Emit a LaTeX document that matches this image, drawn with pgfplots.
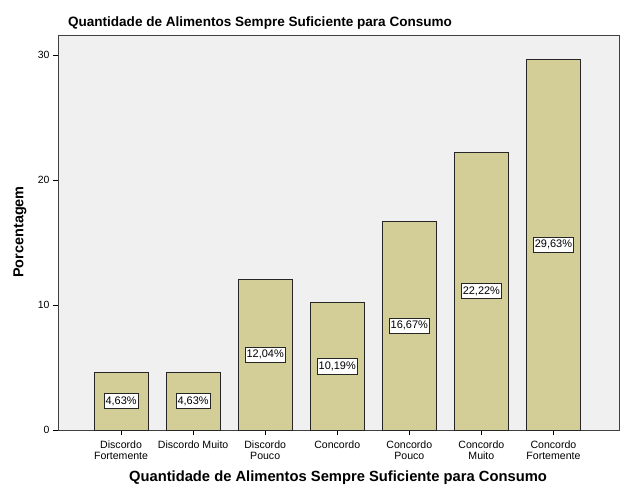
\documentclass[border=0pt]{standalone}
\usepackage{pgfplots}
\pgfplotsset{compat=1.18}
\usepackage{fontspec}
\setmainfont{Liberation Sans}
\definecolor{barfill}{HTML}{D3CE98}
\definecolor{bgc}{HTML}{F0F0F0}
\begin{document}
\begin{tikzpicture}[x=1bp,y=1bp]
\useasboundingbox (-58,-71) rectangle (568,430);
\begin{axis}[
  at={(0,0)}, anchor=south west,
  scale only axis, width=561bp, height=395bp,
  xmin=-0.875, xmax=6.91, ymin=0, ymax=31.6,
  axis background/.style={fill=bgc},
  axis line style={black!75},
  xtick={0,1,2,3,4,5,6},
  xticklabels={{Discordo\\Fortemente},{Discordo Muito},{Discordo\\Pouco},{Concordo},{Concordo\\Pouco},{Concordo\\Muito},{Concordo\\Fortemente}},
  xticklabel style={align=center, font=\fontsize{10.6}{10.5}\selectfont, yshift=-2.5bp},
  ytick={0,10,20,30},
  yticklabel style={font=\fontsize{10.5}{12}\selectfont},
  /pgf/number format/assume math mode=true,
  tick align=outside, tick pos=left,
  major tick length=5bp,
  tick style={black, line width=0.8pt},
  clip=false,
]
\addplot[ybar, bar width=54bp, bar shift=0pt, fill=barfill, draw=black!85, line width=0.8pt]
  coordinates {(0,4.63) (1,4.63) (2,12.04) (3,10.19) (4,16.67) (5,22.22) (6,29.63)};
\addplot[only marks, mark=none, point meta=explicit symbolic,
  nodes near coords,
  every node near coord/.style={anchor=center, fill=white, draw=black!85, line width=0.6pt, inner xsep=1.5bp, inner ysep=3bp, font=\fontsize{11}{12}\selectfont}]
  coordinates {(0,2.315) [4,63\%] (1,2.315) [4,63\%] (2,6.02) [12,04\%] (3,5.095) [10,19\%] (4,8.335) [16,67\%] (5,11.11) [22,22\%] (6,14.815) [29,63\%]};
\end{axis}
\node[font=\bfseries\fontsize{13.6}{16}\selectfont] at (202,407) {Quantidade de Alimentos Sempre Suficiente para Consumo};
\node[font=\bfseries\fontsize{14.8}{16}\selectfont] at (280,-48) {Quantidade de Alimentos Sempre Suficiente para Consumo};
\node[font=\bfseries\fontsize{14.5}{16}\selectfont, rotate=90] at (-38,198) {Porcentagem};
\end{tikzpicture}
\end{document}
